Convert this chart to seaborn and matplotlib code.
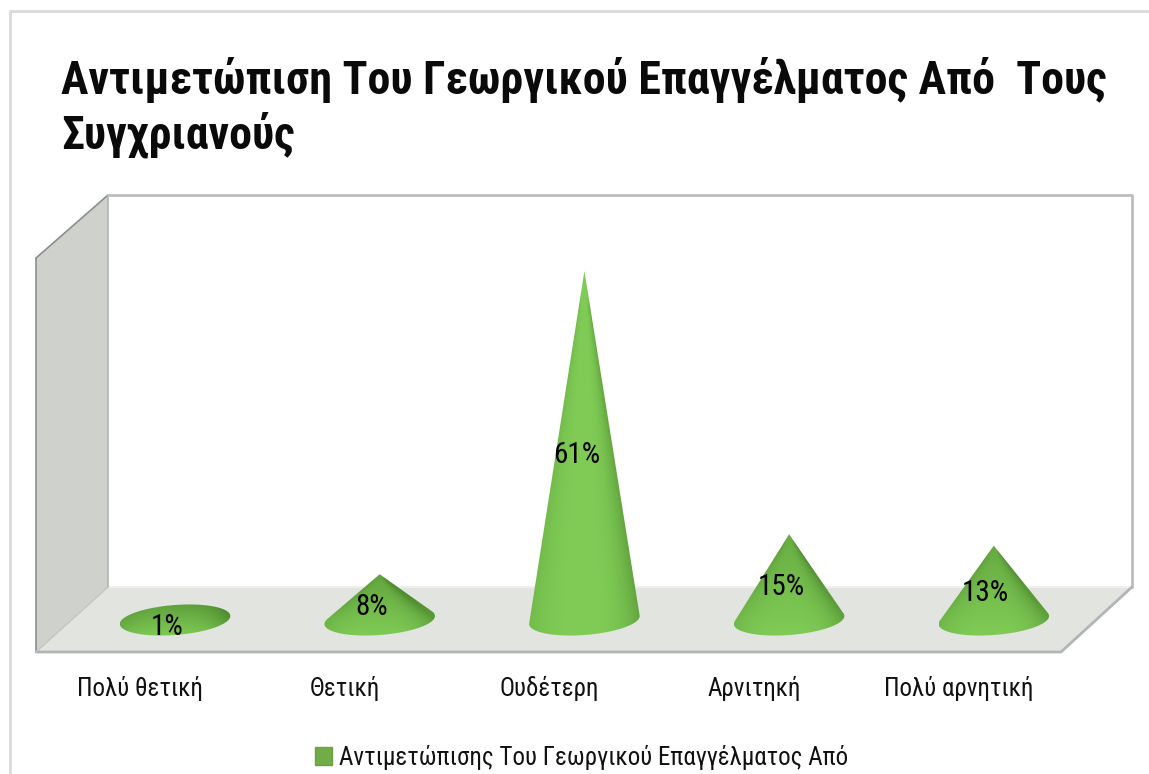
import numpy as np
import matplotlib
matplotlib.use("Agg")
import matplotlib.pyplot as plt
from matplotlib.patches import Polygon, Patch
from matplotlib.path import Path
from matplotlib.transforms import ScaledTranslation
import seaborn as sns

categories = ["Πολύ θετική", "Θετική", "Ουδέτερη", "Αρνιτηκή", "Πολύ αρνητική"]
values = [1, 8, 61, 15, 13]
value_labels = ["1%", "8%", "61%", "15%", "13%"]
title_text = "Αντιμετώπιση Του Γεωργικού Επαγγέλματος Από  Τους\nΣυγχριανούς"
series_name = "Αντιμετώπισης Του Γεωργικού Επαγγέλματος Από"

W, H, DPI = 1149, 774, 100
FONT = ["Roboto Condensed", "Roboto", "DejaVu Sans"]
sns.set_theme(style="white")
plt.rcParams["font.family"] = FONT

fig = plt.figure(figsize=(W / DPI, H / DPI), dpi=DPI, facecolor="white")

# Chart frame and the 3D walls, in pixel space
bg = fig.add_axes([0, 0, 1, 1], zorder=0)
bg.set_xlim(0, W)
bg.set_ylim(H, 0)
bg.axis("off")
bg.plot([9.5, 9.5, W], [H, 11, 11], color="#d9d9d9", lw=2)
bg.add_patch(Polygon([(108, 587), (1132, 587), (1061, 652), (36, 652)], fc="#e1e4df", ec="none"))
bg.add_patch(Polygon([(36, 258), (108, 195), (108, 587), (36, 652)], fc="#cfd2cc", ec="none"))
bg.plot([108, 1132], [587, 587], color="#eef0ec", lw=1.5)
bg.plot([36, 108], [258, 195], color="#8b8f8a", lw=1.2)
bg.plot([36, 36], [258, 652], color="#8b8f8a", lw=1.2)
bg.plot([108, 108], [195, 587], color="#b3b5b2", lw=1.2)
bg.plot([108, 1132, 1132], [195, 195, 587], color="#bdbdbd", lw=2)
bg.plot([36, 1061, 1132], [652, 652, 587], color="#b4b4b4", lw=2)
bg.plot([36, 108], [652, 587], color="#c3c5c1", lw=1)

# Data axes
L, R, T, B = 37, 1131, 195, 652
ax = fig.add_axes([L / W, 1 - B / H, (R - L) / W, (B - T) / H], zorder=1)
ax.patch.set_alpha(0)
sns.barplot(x=categories, y=values, ax=ax, color="#70ad47", width=0.54, legend=False)
PX_X, PX_Y = 204.7, 5.72
xlim = ((L - 175) / PX_X, (R - 175) / PX_X)
ylim = (-(B - 620) / PX_Y, (620 - T) / PX_Y)
ax.set_xlim(*xlim)
ax.set_ylim(*ylim)
ax.set_xlabel("")
ax.set_ylabel("")
ax.set_yticks([])
for s in ax.spines.values():
    s.set_visible(False)


def hull(pts):
    pts = sorted(map(tuple, pts))
    def half(seq):
        out = []
        for p in seq:
            while len(out) > 1 and ((out[-1][0] - out[-2][0]) * (p[1] - out[-2][1]) -
                                    (out[-1][1] - out[-2][1]) * (p[0] - out[-2][0])) <= 0:
                out.pop()
            out.append(p)
        return out[:-1]
    return np.array(half(pts) + half(pts[::-1]))


GRN_LIGHT = np.array([0x80, 0xcc, 0x56]) / 255
GRN_DARK = np.array([0x4f, 0x8c, 0x2f]) / 255
RX_PX, RY_PX, TILT_PX = 56.0, 15.0, 4.0

for bar, val, lab in zip(list(ax.patches), values, value_labels):
    xc = bar.get_x() + bar.get_width() / 2
    top = bar.get_height()
    bar.set_visible(False)
    rx = bar.get_width() / 2
    ry = RY_PX / PX_Y
    tilt = TILT_PX / PX_Y
    th = np.linspace(0, 2 * np.pi, 240, endpoint=False)
    ex = xc + rx * np.cos(th)
    ey = ry * np.sin(th) + tilt * np.cos(th)
    outline = hull(np.vstack([np.c_[ex, ey], [[xc, top]]]))
    # surface shading: bright centre, dark flanks, darker crown on short cones
    ymin, ymax = -ry - tilt, max(top, ry + tilt)
    xs = np.linspace(xc - rx, xc + rx, 200)
    ys = np.linspace(ymin, ymax, 300)
    gx, gy = np.meshgrid(xs, ys)
    frac = np.clip((gy - ymin) / (ymax - ymin), 0, 1)
    if top > 2 * ry:
        half_w = np.maximum(rx * (1 - np.clip(gy / top, 0, 0.9)), 0.02)
    else:
        half_w = np.full_like(gx, rx)
    u = np.clip((gx - xc) / half_w, -1, 1)
    side = np.where(u > 0, 0.6, 0.28) * np.abs(u) ** 3
    crown = (1 - min(top / 40, 1)) * 0.8 * frac ** 1.2
    k = np.clip(side + crown, 0, 1)[..., None]
    rgb = GRN_LIGHT * (1 - k) + GRN_DARK * k
    im = ax.imshow(rgb, origin="lower", extent=(xc - rx, xc + rx, ymin, ymax),
                   aspect="auto", interpolation="bilinear", zorder=3)
    im.set_clip_path(Path(outline, closed=True), ax.transData)
    ax.annotate(lab, xy=(xc, val / 2 - 1.7), xytext=(-8 * 72 / DPI, 0),
                textcoords="offset points", ha="center", va="center",
                fontsize=21, color="black", zorder=5)

ax.set_xlim(*xlim)
ax.set_ylim(*ylim)
ax.tick_params(axis="x", length=0, pad=17, labelsize=18, labelcolor="#111111")
shift = ScaledTranslation(-35 / DPI, 0, fig.dpi_scale_trans)
for t in ax.get_xticklabels():
    t.set_transform(t.get_transform() + shift)

fig.text(61 / W, 1 - 57 / H, title_text, fontsize=33, fontweight="bold", color="#0a0a0a",
         ha="left", va="top", linespacing=1.22)

handle = Patch(facecolor="#70ad47", edgecolor="#6a9f45", label=series_name)
fig.legend(handles=[handle], loc="center", bbox_to_anchor=(582 / W, 1 - 757 / H),
           frameon=False, fontsize=18, handlelength=0.68, handleheight=0.72,
           handletextpad=0.28, labelcolor="#111111")

fig.savefig("out.png", dpi=DPI)
